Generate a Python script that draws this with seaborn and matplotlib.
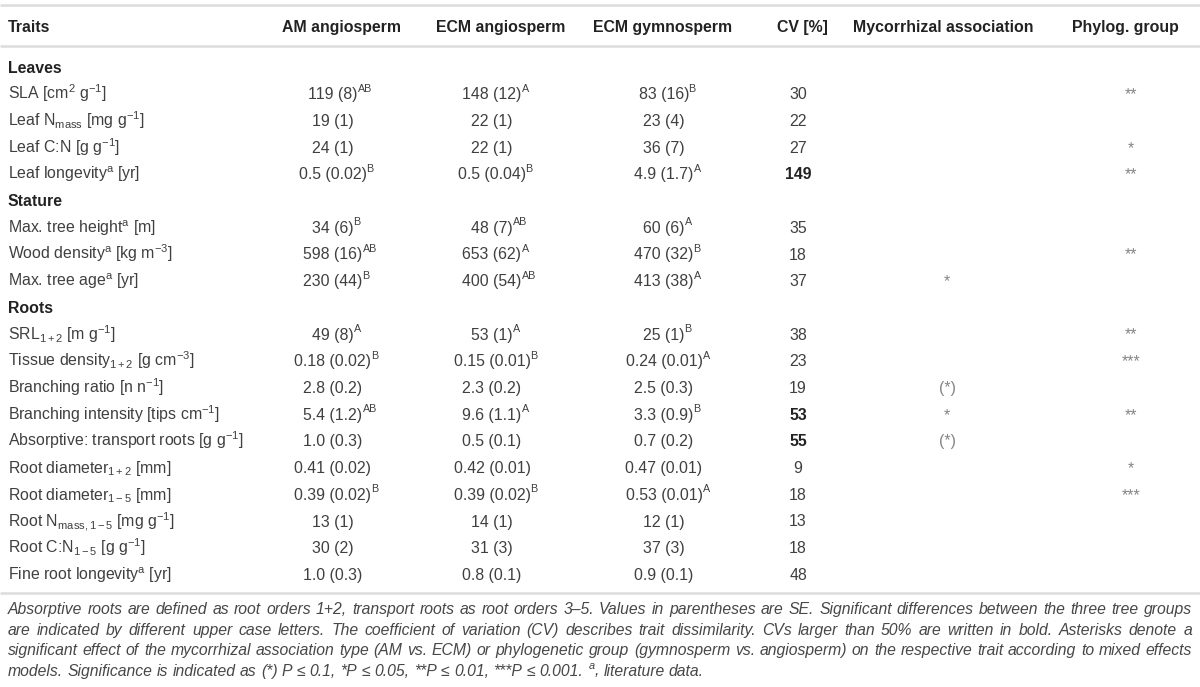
import matplotlib
matplotlib.use("Agg")
import matplotlib.pyplot as plt
import seaborn as sns

# ---------------- data ----------------
col_headers = ["Traits", "AM angiosperm", "ECM angiosperm", "ECM gymnosperm",
               "CV [%]", "Mycorrhizal association", "Phylog. group"]
sections = ["Leaves", "Stature", "Roots"]
section_sizes = [4, 3, 10]
traits = [
    r"SLA [cm$^{2}$ g$^{-1}$]",
    r"Leaf N$_{\mathrm{mass}}$ [mg g$^{-1}$]",
    r"Leaf C:N [g g$^{-1}$]",
    r"Leaf longevity$^{\mathrm{a}}$ [yr]",
    r"Max. tree height$^{\mathrm{a}}$ [m]",
    r"Wood density$^{\mathrm{a}}$ [kg m$^{-3}$]",
    r"Max. tree age$^{\mathrm{a}}$ [yr]",
    r"SRL$_{1+2}$ [m g$^{-1}$]",
    r"Tissue density$_{1+2}$ [g cm$^{-3}$]",
    r"Branching ratio [n n$^{-1}$]",
    r"Branching intensity [tips cm$^{-1}$]",
    r"Absorptive: transport roots [g g$^{-1}$]",
    r"Root diameter$_{1+2}$ [mm]",
    r"Root diameter$_{1-5}$ [mm]",
    r"Root N$_{\mathrm{mass,1-5}}$ [mg g$^{-1}$]",
    r"Root C:N$_{1-5}$ [g g$^{-1}$]",
    r"Fine root longevity$^{\mathrm{a}}$ [yr]",
]
am_mean = ["119", "19", "24", "0.5", "34", "598", "230", "49", "0.18", "2.8", "5.4", "1.0", "0.41", "0.39", "13", "30", "1.0"]
am_se = ["8", "1", "1", "0.02", "6", "16", "44", "8", "0.02", "0.2", "1.2", "0.3", "0.02", "0.02", "1", "2", "0.3"]
am_grp = ["AB", "", "", "B", "B", "AB", "B", "A", "B", "", "AB", "", "", "B", "", "", ""]
ecma_mean = ["148", "22", "22", "0.5", "48", "653", "400", "53", "0.15", "2.3", "9.6", "0.5", "0.42", "0.39", "14", "31", "0.8"]
ecma_se = ["12", "1", "1", "0.04", "7", "62", "54", "1", "0.01", "0.2", "1.1", "0.1", "0.01", "0.02", "1", "3", "0.1"]
ecma_grp = ["A", "", "", "B", "AB", "A", "AB", "A", "B", "", "A", "", "", "B", "", "", ""]
ecmg_mean = ["83", "23", "36", "4.9", "60", "470", "413", "25", "0.24", "2.5", "3.3", "0.7", "0.47", "0.53", "12", "37", "0.9"]
ecmg_se = ["16", "4", "7", "1.7", "6", "32", "38", "1", "0.01", "0.3", "0.9", "0.2", "0.01", "0.01", "1", "3", "0.1"]
ecmg_grp = ["B", "", "", "A", "A", "B", "A", "B", "A", "", "B", "", "", "A", "", "", ""]
cv = [30, 22, 27, 149, 35, 18, 37, 38, 23, 19, 53, 55, 9, 18, 13, 18, 48]
myc_sig = ["", "", "", "", "", "", "*", "", "", "(*)", "*", "(*)", "", "", "", "", ""]
phy_sig = ["**", "", "*", "**", "", "**", "", "**", "***", "", "**", "", "*", "***", "", "", ""]

caption_lines = [
    "Absorptive roots are defined as root orders 1+2, transport roots as root orders 3\u20135. Values in parentheses are SE. Significant differences between the three tree groups",
    "are indicated by different upper case letters. The coefficient of variation (CV) describes trait dissimilarity. CVs larger than 50% are written in bold. Asterisks denote a",
    "significant effect of the mycorrhizal association type (AM vs. ECM) or phylogenetic group (gymnosperm vs. angiosperm) on the respective trait according to mixed effects",
    "models. Significance is indicated as (*) P \u2264 0.1, *P \u2264 0.05, **P \u2264 0.01, ***P \u2264 0.001. $^{a}$, literature data.",
]

# ---------------- style ----------------
sns.set_theme(style="white")
plt.rcParams["font.family"] = ["Liberation Sans", "DejaVu Sans"]
plt.rcParams["mathtext.fontset"] = "custom"
plt.rcParams["mathtext.rm"] = "Liberation Sans"
plt.rcParams["mathtext.it"] = "Liberation Sans:italic"
plt.rcParams["mathtext.bf"] = "Liberation Sans:bold"

W, H = 1200, 687
fig = plt.figure(figsize=(W / 100, H / 100), dpi=100)
ax = fig.add_axes([0, 0, 1, 1])
ax.set_xlim(0, W)
ax.set_ylim(H, 0)
ax.axis("off")

FS = 11.4
BODY = "#404040"
HEAD = "#222222"
STAR = "#858585"
LINE = "#dcdcdc"
BL = 5.6  # centre -> baseline offset in px

hdr_x = [8, 341, 501, 663, 802, 943, 1125]
val_x = [333, 492, 664, 798, 947, 1131]

y_top, y_head, y_hline, y_bottom = 5, 26, 46, 593
y0, dy = 67, 26.7

for yy in (y_top, y_hline, y_bottom):
    ax.plot([0, W], [yy, yy], color=LINE, lw=1.8, solid_capstyle="butt")

for i, h in enumerate(col_headers):
    ax.text(hdr_x[i], y_head + BL, h, ha="left" if i == 0 else "center", va="baseline",
            fontsize=FS, fontweight="bold", color=HEAD)

fig.canvas.draw()
renderer = fig.canvas.get_renderer()


def add_value(x, y, base, sup):
    t = ax.text(x, y + BL, base, ha="center", va="baseline", fontsize=FS, color=BODY)
    if sup:
        bb = t.get_window_extent(renderer)
        xr = bb.x1 - (0.8 if sup.startswith("B") else 0.0)
        ax.text(xr, y + BL - 7.5, sup, ha="left", va="baseline", fontsize=FS * 0.68, color=BODY)


row = 0
k = 0
for s, n in zip(sections, section_sizes):
    y = y0 + row * dy
    ax.text(8, y + BL, s, ha="left", va="baseline", fontsize=FS, fontweight="bold", color=HEAD)
    row += 1
    for _ in range(n):
        y = y0 + row * dy
        ax.text(8, y + BL, traits[k], ha="left", va="baseline", fontsize=FS, color=BODY)
        add_value(val_x[0], y, f"{am_mean[k]} ({am_se[k]})", am_grp[k])
        add_value(val_x[1], y, f"{ecma_mean[k]} ({ecma_se[k]})", ecma_grp[k])
        add_value(val_x[2], y, f"{ecmg_mean[k]} ({ecmg_se[k]})", ecmg_grp[k])
        bold = cv[k] > 50
        ax.text(val_x[3], y + BL, str(cv[k]), ha="center", va="baseline", fontsize=FS,
                fontweight="bold" if bold else "normal", color=HEAD if bold else BODY)
        if myc_sig[k]:
            ax.text(val_x[4], y + BL, myc_sig[k], ha="center", va="baseline",
                    fontsize=FS, color=STAR)
        if phy_sig[k]:
            ax.text(val_x[5], y + BL, phy_sig[k], ha="center", va="baseline", fontsize=FS, color=STAR)
        row += 1
        k += 1

# ---------------- caption (justified) ----------------
left, right = 8, 1192
probe = ax.text(0, 0, caption_lines[0], fontsize=10, style="italic")
natural = probe.get_window_extent(renderer).width
probe.remove()
CFS = min(11.6, 10 * (right - left) / natural * 0.985)
cap_y0, cap_dy = 609, 20.6
sp = ax.text(0, 0, "a a", fontsize=CFS, style="italic")
sa = ax.text(0, 0, "aa", fontsize=CFS, style="italic")
space_w = sp.get_window_extent(renderer).width - sa.get_window_extent(renderer).width
sp.remove(); sa.remove()
for li, line in enumerate(caption_lines):
    y = cap_y0 + li * cap_dy + 5
    words = line.split(" ")
    arts = [ax.text(0, y, w, ha="left", va="baseline", fontsize=CFS, style="italic", color="#474747")
            for w in words]
    widths = [a.get_window_extent(renderer).width for a in arts]
    if li < len(caption_lines) - 1:
        gap = (right - left - sum(widths)) / (len(words) - 1)
    else:
        gap = space_w
    x = left
    for a, w in zip(arts, widths):
        a.set_x(x)
        x += w + gap

fig.savefig("out.png", dpi=100, facecolor="white")
